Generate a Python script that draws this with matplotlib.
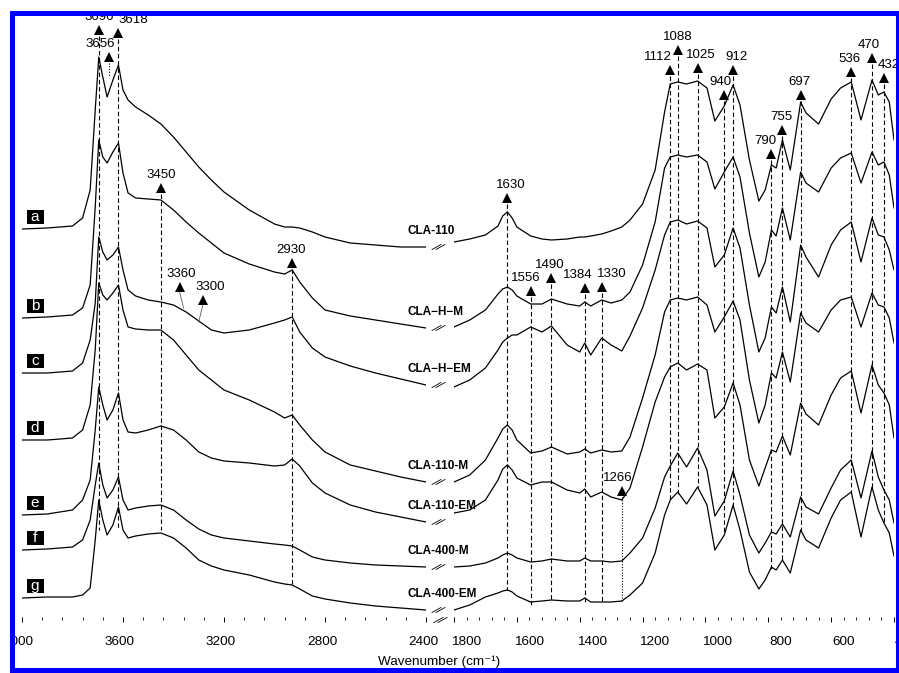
import matplotlib
matplotlib.use("Agg")
import matplotlib.pyplot as plt
import matplotlib.transforms as mtransforms
from matplotlib.lines import Line2D
from matplotlib.patches import Rectangle
from matplotlib.ticker import MultipleLocator

plt.rcParams["font.family"] = ["Liberation Sans", "DejaVu Sans"]

# ── FTIR spectra (stacked absorbance, a.u.) ─────────────────────────────────
# broken x-axis: 4000-2400 cm-1 | 1800-400 cm-1
wn_hi = [4000, 3900, 3800, 3760, 3730, 3710, 3696, 3680, 3663, 3640, 3618,
         3600, 3580, 3550, 3500, 3450, 3400, 3350, 3300, 3250, 3200, 3100,
         3000, 2960, 2930, 2900, 2850, 2800, 2700, 2600, 2500, 2400]
wn_lo = [1800, 1750, 1700, 1660, 1645, 1630, 1615, 1600, 1556, 1520, 1490, 1440,
         1400, 1384, 1365, 1330, 1300, 1266, 1240, 1200, 1160, 1130, 1112, 1088,
         1060, 1025, 995, 970, 940, 912, 890, 860, 830, 810, 790, 775, 755,
         730, 697, 680, 640, 600, 570, 536, 505, 470, 450, 432, 415, 400]

hi_a = [388, 389, 391, 399, 427, 507, 560, 540, 520, 537, 552, 527, 517, 510, 502, 493,
        480, 465, 450, 437, 425, 407, 393, 390, 390, 389, 385, 380, 374, 372, 370, 370]
hi_b = [299, 300, 302, 309, 332, 410, 477, 460, 454, 465, 474, 444, 424, 419, 418, 417,
        407, 395, 384, 374, 364, 353, 345, 343, 347, 335, 319, 307, 301, 297, 293, 289]
hi_c = [244, 244, 246, 254, 277, 314, 380, 365, 357, 362, 370, 347, 327, 321, 317, 315,
        312, 305, 296, 287, 284, 287, 294, 297, 300, 285, 269, 260, 251, 244, 238, 232]
hi_d = [177, 177, 179, 187, 212, 267, 334, 322, 317, 324, 332, 307, 290, 288, 287, 287,
        277, 262, 247, 237, 227, 217, 205, 199, 202, 192, 177, 165, 152, 146, 140, 135]
hi_e = [102, 103, 107, 117, 137, 187, 230, 212, 197, 207, 224, 197, 185, 184, 187, 191,
        187, 177, 165, 159, 156, 154, 151, 152, 158, 151, 134, 124, 112, 105, 100, 95]
hi_f = [67, 68, 70, 77, 97, 132, 154, 132, 119, 127, 140, 117, 107, 109, 111, 112,
        107, 97, 88, 82, 79, 76, 73, 72, 71, 67, 60, 57, 54, 52, 51, 50]
hi_g = [19, 20, 20, 22, 29, 77, 117, 97, 82, 92, 110, 87, 79, 81, 83, 84,
        79, 69, 57, 51, 47, 42, 35, 33, 32, 28, 21, 18, 14, 11, 9, 7]

lo_a = [375, 378, 382, 391, 401, 405, 399, 390, 381, 378, 377, 378, 380, 380, 381, 383,
        386, 390, 397, 413, 447, 505, 533, 535, 533, 536, 529, 496, 511, 532, 512, 457,
        416, 427, 452, 449, 477, 447, 515, 504, 493, 518, 529, 535, 497, 537, 522, 525,
        515, 477]
lo_b = [290, 297, 307, 323, 328, 330, 327, 321, 313, 313, 318, 313, 311, 315, 311, 317,
        314, 317, 325, 352, 395, 449, 460, 462, 460, 462, 455, 428, 445, 460, 440, 384,
        340, 355, 387, 381, 409, 377, 445, 434, 425, 449, 459, 464, 434, 465, 452, 455,
        442, 409]
lo_c = [230, 237, 249, 267, 275, 279, 282, 282, 290, 285, 291, 272, 265, 274, 262, 279,
        272, 266, 281, 309, 347, 382, 395, 397, 393, 396, 389, 350, 362, 389, 369, 312,
        265, 279, 310, 304, 330, 295, 372, 360, 340, 372, 387, 395, 355, 399, 382, 380,
        367, 347]
lo_d = [135, 142, 157, 179, 188, 192, 187, 177, 164, 166, 170, 163, 165, 168, 164, 167,
        165, 166, 180, 219, 262, 305, 317, 319, 317, 320, 312, 285, 300, 316, 297, 237,
        194, 212, 244, 239, 265, 235, 304, 294, 285, 307, 317, 320, 290, 324, 312, 310,
        299, 274]
lo_e = [104, 107, 117, 137, 148, 152, 147, 139, 132, 135, 135, 127, 124, 128, 120, 125,
        120, 117, 129, 170, 215, 240, 250, 254, 247, 253, 247, 199, 210, 234, 212, 157,
        131, 149, 167, 165, 181, 162, 214, 203, 192, 222, 239, 246, 204, 252, 232, 224,
        212, 179]
lo_f = [50, 51, 54, 59, 62, 64, 62, 59, 55, 56, 58, 56, 56, 59, 56, 56,
        55, 56, 64, 79, 109, 140, 151, 164, 150, 169, 147, 101, 116, 146, 122, 82,
        64, 74, 85, 83, 93, 80, 120, 110, 103, 129, 147, 157, 119, 166, 140, 127,
        117, 94]
lo_g = [7, 12, 20, 24, 26, 27, 25, 21, 15, 16, 17, 16, 16, 19, 15, 15,
        15, 16, 22, 34, 64, 102, 117, 125, 113, 130, 112, 67, 82, 112, 87, 45,
        28, 37, 50, 47, 57, 44, 87, 77, 69, 99, 117, 125, 80, 130, 107, 94,
        84, 61]

letters = ["a", "b", "c", "d", "e", "f", "g"]
names = ["CLA-110", "CLA\u2212H\u2212M", "CLA\u2212H\u2212EM", "CLA-110-M",
         "CLA-110-EM", "CLA-400-M", "CLA-400-EM"]

# band assignments (cm-1)
peaks_hi = [3696, 3656, 3618, 3450, 3360, 3300, 2930]
peaks_lo = [1630, 1556, 1490, 1384, 1330, 1266, 1112, 1088, 1025, 940, 912,
            790, 755, 697, 536, 470, 432]

# layout of the peak marks: arrow height, lower end of guide, label shift (px),
# guide style, arrow shift (px)
MARKS = {
    3696: (587, 87, 0, "--", 0), 3656: (560, 540, -9, ":", 0),
    3618: (584, 87, 15, "--", 0), 3450: (429, 87, 0, "--", 0),
    3360: (330, 309, 2, "lead", -4), 3300: (317, 295, 7, "lead", 4),
    2930: (354, 30, -1, "--", 0),
    1630: (419, 27, 3, "--", 0), 1556: (326, 12, -5, "--", 0),
    1490: (339, 15, -2, "--", 0), 1384: (329, 15, -7, "--", 0),
    1330: (330, 15, 10, "--", 0), 1266: (126, 15, -4, ":", 0),
    1112: (547, 117, -12, "--", 0), 1088: (567, 122, 0, "--", 0),
    1025: (549, 130, 3, "--", 0), 940: (522, 84, -4, "--", 0),
    912: (547, 112, 3, "--", 0), 790: (463, 47, -6, "--", 0),
    755: (487, 57, -1, "--", 0), 697: (522, 87, -1, "--", 0),
    536: (545, 124, -2, "--", 0), 470: (559, 129, -3, "--", 0),
    432: (539, 94, 5, "--", 0),
}

W, H = 899, 673
fig = plt.figure(figsize=(W / 100, H / 100), dpi=100)
PIX = mtransforms.IdentityTransform()


def add_axes_px(x0, x1, y_top, y_bot):
    return fig.add_axes([x0 / W, 1 - y_bot / H, (x1 - x0) / W, (y_bot - y_top) / H])


ax_hi = add_axes_px(22, 426, 0, 617)
ax_lo = add_axes_px(454, 894, 0, 617)
ax_hi.set_xlim(4000, 2400)
ax_lo.set_xlim(1800, 400)
ax_hi.set_xticks([4000, 3600, 3200, 2800, 2400])
ax_lo.set_xticks(list(range(1800, 399, -200)))
ax_hi.xaxis.set_minor_locator(MultipleLocator(80))
ax_lo.xaxis.set_minor_locator(MultipleLocator(40))

for ax in (ax_hi, ax_lo):
    ax.set_ylim(0, 617)
    ax.patch.set_visible(False)
    for s in ax.spines.values():
        s.set_visible(False)
    ax.set_yticks([])
    ax.tick_params(axis="x", which="major", direction="out", length=3.8,
                   width=0.7, pad=10, labelsize=9.7)
    ax.tick_params(axis="x", which="minor", direction="out", length=2.2, width=0.6)

# tick labels sit a little off their ticks in the original
for ax, dx in ((ax_hi, -3), (ax_lo, 12)):
    for lab in ax.get_xticklabels():
        lab.set_transform(lab.get_transform()
                          + mtransforms.ScaledTranslation(dx / 100, 0, fig.dpi_scale_trans))

spec_hi = [hi_a, hi_b, hi_c, hi_d, hi_e, hi_f, hi_g]
spec_lo = [lo_a, lo_b, lo_c, lo_d, lo_e, lo_f, lo_g]
for yh, yl in zip(spec_hi, spec_lo):
    ax_hi.plot(wn_hi, yh, color="k", lw=0.9)
    ax_lo.plot(wn_lo, yl, color="k", lw=0.9)


def ftext(x, y, s, **kw):
    fig.text(x, y, s, transform=PIX, **kw)


def break_mark(x, y):
    for o in (0, 4):
        fig.add_artist(Line2D([x - 6 + o, x + 3 + o], [y - 2.5, y + 2.5],
                              transform=PIX, color="k", lw=0.6))


def annotate(ax, peaks):
    for wn in peaks:
        h_arr, h_end, dx_lab, style, dx_arr = MARKS[wn]
        tr_arr = mtransforms.offset_copy(ax.transData, fig=fig, x=dx_arr, units="dots")
        tr_lab = mtransforms.offset_copy(ax.transData, fig=fig, x=dx_arr + dx_lab, units="dots")
        ax.plot([wn], [h_arr], marker="^", ms=6.5, mew=0, color="k",
                transform=tr_arr, clip_on=False)
        ax.text(wn, h_arr + 13, str(wn), transform=tr_lab, ha="center",
                va="center", fontsize=9.5)
        if style == "lead":
            x0, y0 = tr_arr.transform((wn, h_arr - 5))
            x1, y1 = ax.transData.transform((wn, h_end))
            fig.add_artist(Line2D([x0, x1], [y0, y1], transform=PIX,
                                  color="0.35", lw=0.6))
        else:
            ax.plot([wn, wn], [h_arr - 6, h_end], color="k", lw=0.8,
                    ls=style, dashes=(4, 2.5) if style == "--" else (1, 1.5))


annotate(ax_hi, peaks_hi)
annotate(ax_lo, peaks_lo)

# sample tags, names and axis-break marks, anchored to the curve ends
for yh, letter, name in zip(spec_hi, letters, names):
    x0, y0 = ax_hi.transData.transform((wn_hi[0], yh[0]))
    x1, y1 = ax_hi.transData.transform((wn_hi[-1], yh[-1]))
    fig.add_artist(Rectangle((x0 + 4.5, y0 + 5), 17, 14, transform=PIX,
                             fc="k", ec="none"))
    ftext(x0 + 13, y0 + 12, letter, color="white", fontsize=11,
          ha="center", va="center")
    ftext(x1 - 18, y1 + 16, name, fontsize=8.5, fontweight="bold",
          ha="left", va="center")
    break_mark(x1 + 12, y1)

xa, ya = ax_hi.transData.transform((wn_hi[-1], 0))
break_mark(xa + 14, ya - 3)

ftext(439, H - 662, "Wavenumber (cm\u207b\u00b9)", fontsize=9.7,
      ha="center", va="center")

# blue frame of the original image
for x, y, w, h in ((0, 0, 9.5, H), (0, H - 10, W, 10), (0, 0, W, 1.5)):
    fig.add_artist(Rectangle((x, y), w, h, transform=PIX, fc="white",
                             ec="none", zorder=9))
fig.add_artist(Rectangle((11.5, 3.5), 886, 657, transform=PIX, fill=False,
                         ec="#0000ff", lw=3.6, zorder=10))

fig.savefig("out.png", dpi=100)
